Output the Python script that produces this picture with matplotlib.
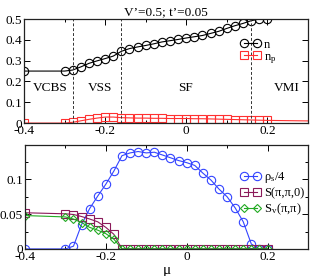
import numpy as np
import matplotlib
matplotlib.use("Agg")
import matplotlib.pyplot as plt
from matplotlib.ticker import MultipleLocator, FuncFormatter

plt.rcParams['font.family'] = ['Liberation Serif', 'DejaVu Serif']
plt.rcParams['mathtext.fontset'] = 'stix'
plt.rcParams['axes.unicode_minus'] = False
plt.rcParams['font.size'] = 9.5

# chemical potential grid
mu = [-0.4, -0.3, -0.28, -0.26, -0.24, -0.22, -0.2, -0.18, -0.16, -0.14, -0.12,
      -0.1, -0.08, -0.06, -0.04, -0.02, 0.0, 0.02, 0.04, 0.06, 0.08, 0.1,
      0.12, 0.14, 0.16, 0.18, 0.2]

# top panel: densities
n = [0.25, 0.25, 0.255, 0.27, 0.287, 0.299, 0.31, 0.322, 0.345, 0.358, 0.366,
     0.373, 0.381, 0.39, 0.396, 0.402, 0.409, 0.415, 0.421, 0.431, 0.441, 0.455,
     0.468, 0.479, 0.492, 0.5, 0.5]
n_p = [0.0, 0.0, 0.004, 0.011, 0.018, 0.024, 0.029, 0.029, 0.026, 0.025, 0.024,
       0.024, 0.023, 0.023, 0.022, 0.022, 0.022, 0.021, 0.021, 0.02, 0.019, 0.018,
       0.017, 0.016, 0.015, 0.014, 0.013]
# n_p run continues past the plotted window
mu_p_extra = [0.4]
n_p_extra = [0.008]

# bottom panel: superfluid density and structure factors
rho_s4 = [0.0, 0.0, 0.004, 0.035, 0.058, 0.076, 0.093, 0.112, 0.134, 0.138, 0.140,
          0.138, 0.139, 0.135, 0.131, 0.127, 0.124, 0.120, 0.109, 0.099, 0.086,
          0.075, 0.059, 0.039, 0.007, 0.0, 0.0]
S_pp0 = [0.052, 0.0505, 0.0495, 0.0466, 0.043, 0.039, 0.031, 0.021, 0.0, 0.0, 0.0,
         0.0, 0.0, 0.0, 0.0, 0.0, 0.0, 0.0, 0.0, 0.0, 0.0, 0.0,
         0.0, 0.0, 0.0, 0.0, 0.0]
S_v = [0.048, 0.046, 0.043, 0.038, 0.031, 0.027, 0.022, 0.014, 0.0, 0.0, 0.0,
       0.0, 0.0, 0.0, 0.0, 0.0, 0.0, 0.0, 0.0, 0.0, 0.0, 0.0,
       0.0, 0.0, 0.0, 0.0, 0.0]

phase_bounds = [-0.28, -0.16, 0.16]
phase_names = ['VCBS', 'VSS', 'SF', 'VMI']
phase_pos = [-0.335, -0.212, -0.002, 0.247]

fig = plt.figure(figsize=(3.12, 2.76), dpi=100)
ax1 = fig.add_axes([0.077, 0.554, 0.910, 0.377])
ax2 = fig.add_axes([0.080, 0.098, 0.907, 0.377])

fmt = FuncFormatter(lambda v, p: '%g' % round(v, 4))

ax1.plot(mu, n, '-o', color='black', mfc='none', ms=6, mew=0.8, lw=0.8, label='n')
ax1.plot(mu + mu_p_extra, n_p + n_p_extra, '-', color='#ff3030', lw=0.8)
ax1.plot(mu, n_p, 's', color='#ff3030', mfc='none', ms=5.3, mew=0.8)
ax1.plot([], [], '-s', color='#ff3030', mfc='none', ms=5.3, mew=0.8, lw=0.8,
         label='n$_\\mathregular{p}$')
for b in phase_bounds:
    ax1.axvline(b, color='#333333', ls=(0, (3, 2)), lw=0.7)
for name, xp in zip(phase_names, phase_pos):
    ax1.text(xp, 0.168, name, ha='center', va='center', fontsize=9.5)
ax1.set_xlim(-0.4, 0.3)
ax1.set_ylim(0, 0.5)
ax1.yaxis.set_major_locator(MultipleLocator(0.1))
ax1.set_title("V’=0.5; t’=0.05", fontsize=9.5, pad=3)
ax1.legend(loc='upper left', bbox_to_anchor=(0.74, 0.87), frameon=False, numpoints=2,
           handlelength=1.6, handletextpad=0.3, labelspacing=0.0, borderpad=0, fontsize=9)

ax2.plot(mu, rho_s4, '-o', color='#3344ff', mfc='none', ms=6, mew=0.8, lw=0.8,
         label='ρ$_\\mathregular{s}$/4')
ax2.plot(mu, S_pp0, '-s', color='#8b1a5a', mfc='none', ms=5.3, mew=0.8, lw=0.8,
         label='S(π,π,0)')
ax2.plot(mu, S_v, '-D', color='#22aa22', mfc='none', ms=4.3, mew=0.8, lw=0.8,
         label='S$_\\mathregular{v}$(π,π)')
ax2.set_xlim(-0.4, 0.3)
ax2.set_ylim(0, 0.1495)
ax2.yaxis.set_major_locator(MultipleLocator(0.05))
ax2.yaxis.set_minor_locator(MultipleLocator(0.025))
ax2.set_xlabel('μ', fontsize=11, labelpad=1)
ax2.legend(loc='upper left', bbox_to_anchor=(0.74, 0.82), frameon=False, numpoints=2,
           handlelength=1.6, handletextpad=0.3, labelspacing=0.2, borderpad=0, fontsize=9)

for ax in (ax1, ax2):
    ax.xaxis.set_major_locator(MultipleLocator(0.2))
    ax.xaxis.set_minor_locator(MultipleLocator(0.1))
    ax.xaxis.set_major_formatter(fmt)
    ax.yaxis.set_major_formatter(fmt)
    ax.tick_params(which='both', direction='in', top=True, right=True, width=0.7)
    ax.tick_params(which='major', length=4, pad=1.5, labelsize=9.5)
    ax.tick_params(which='minor', length=2.5)
    for s in ax.spines.values():
        s.set_linewidth(0.9)
        s.set_color('#222222')

fig.savefig('out.png', dpi=100)
